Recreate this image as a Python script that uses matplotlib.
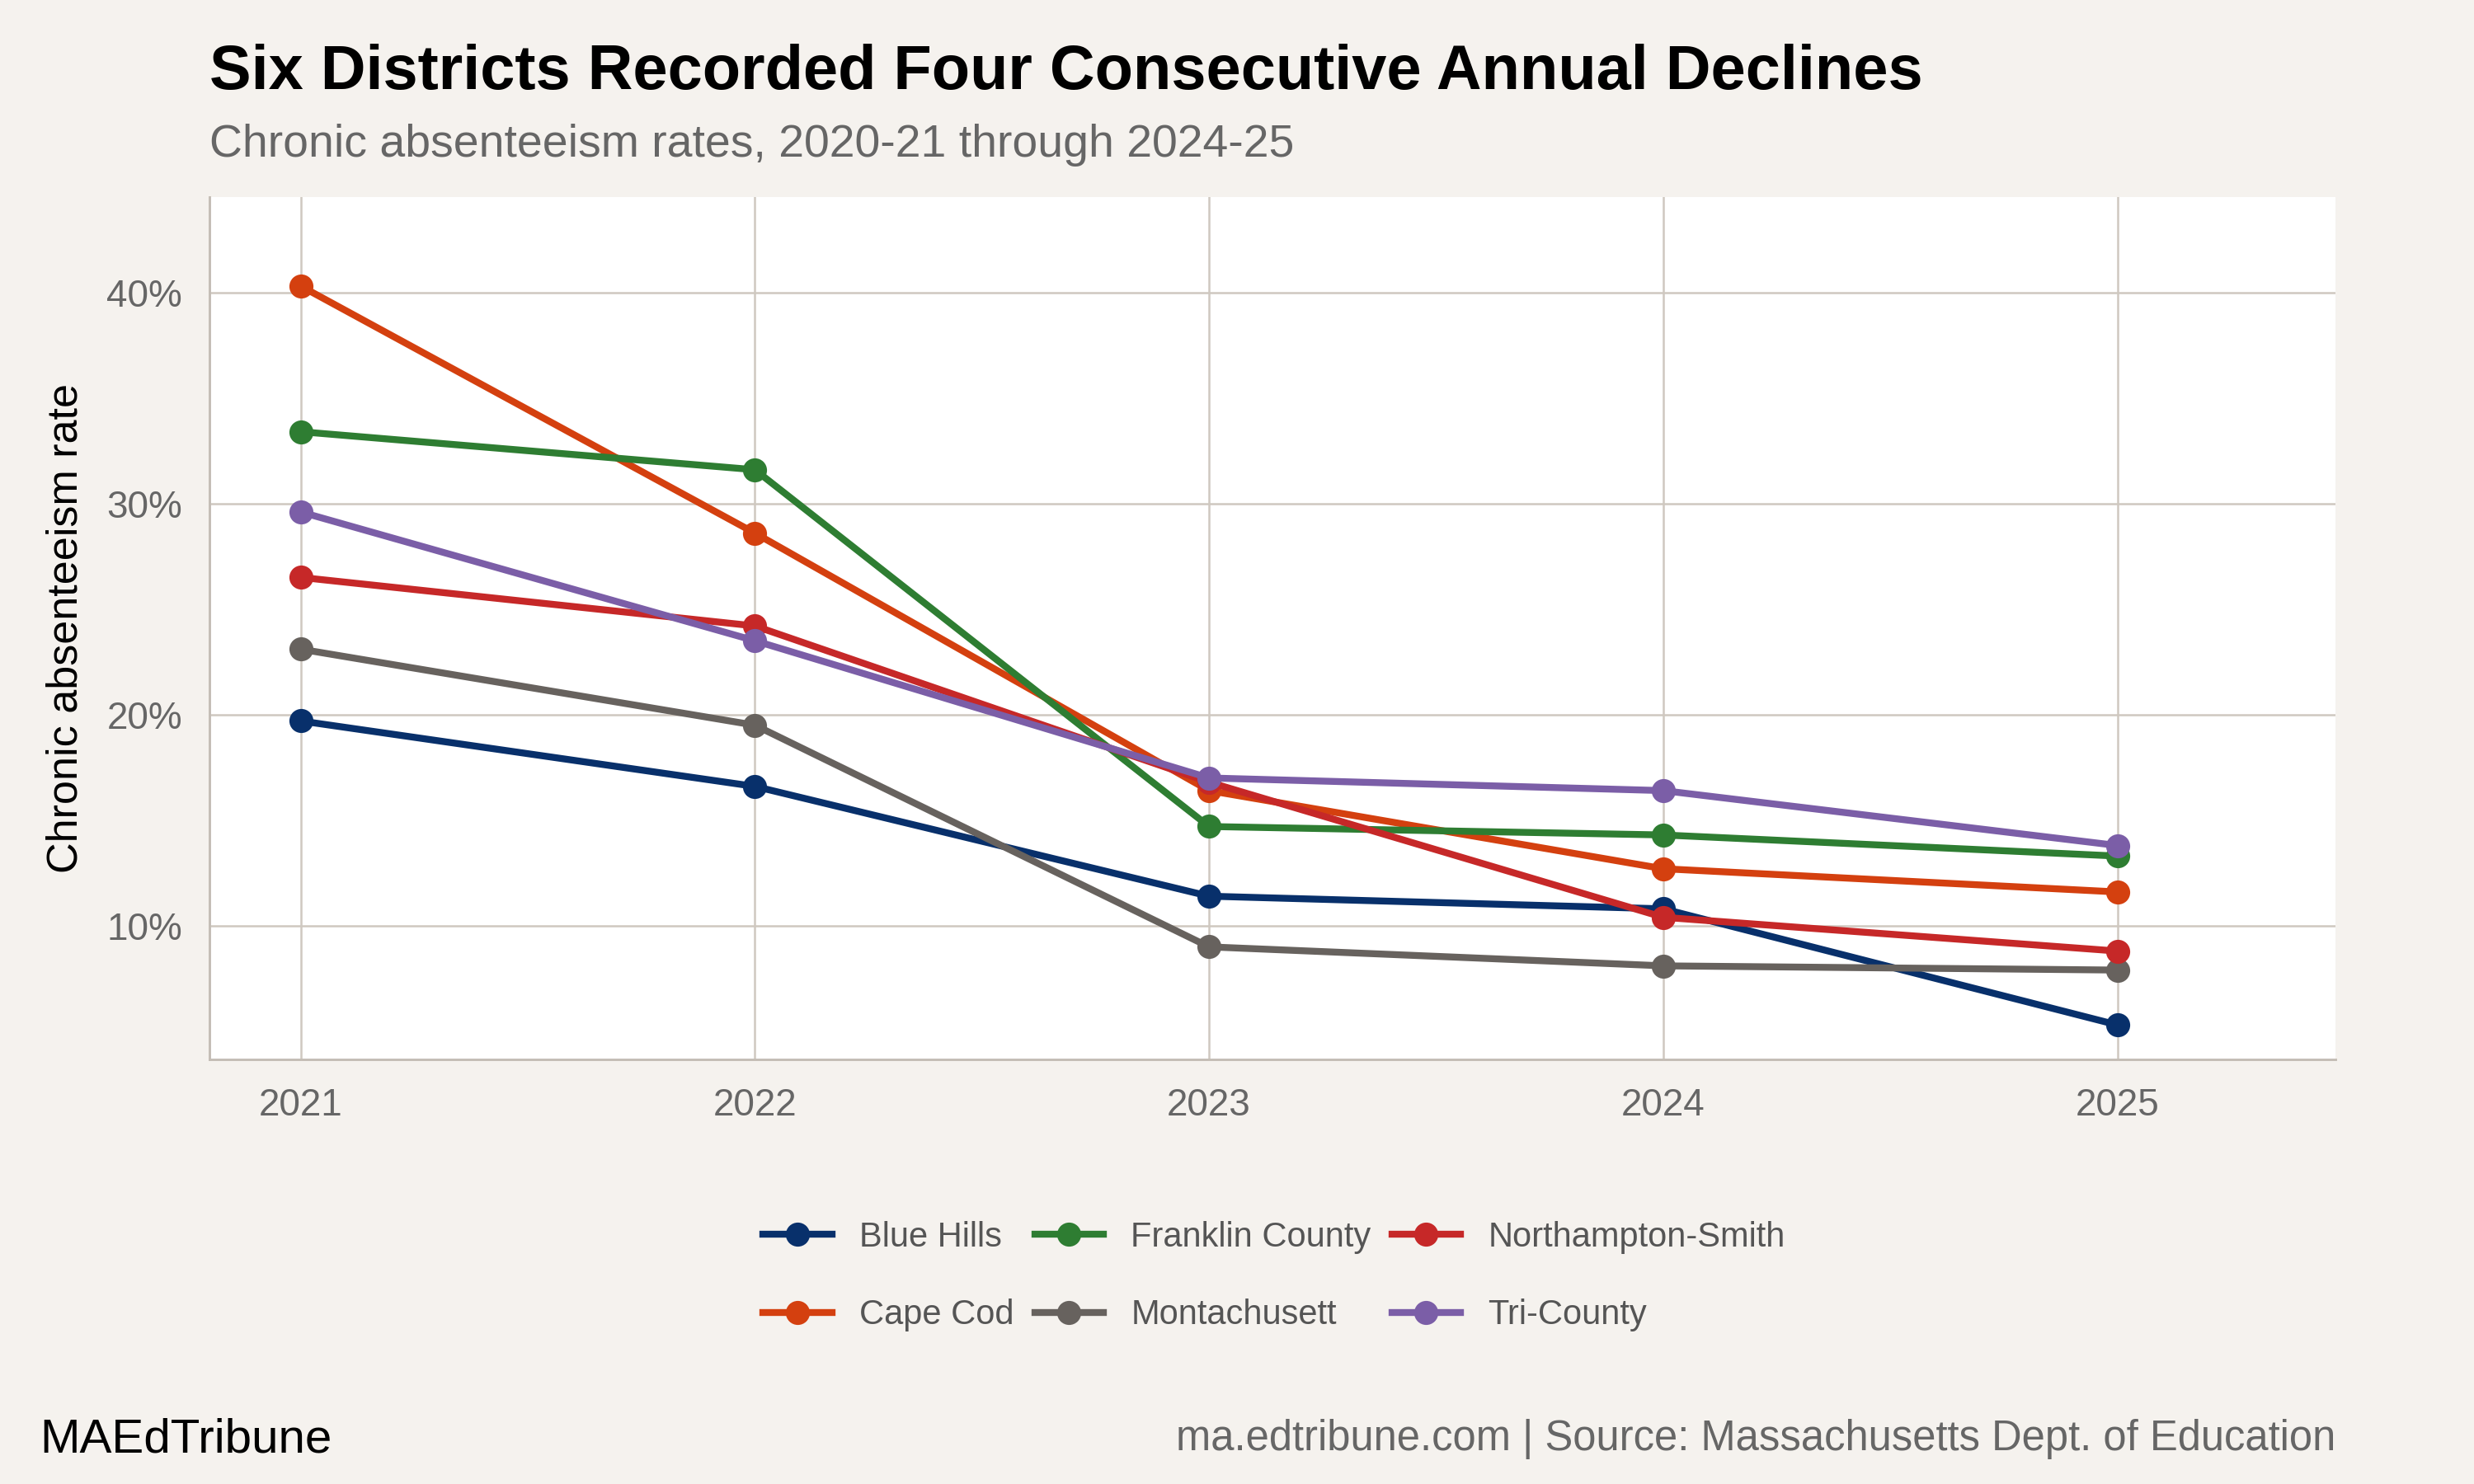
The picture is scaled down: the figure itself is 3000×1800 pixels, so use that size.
import matplotlib
matplotlib.use("Agg")
import matplotlib.pyplot as plt
from matplotlib.ticker import FuncFormatter

plt.rcParams['font.family'] = ['Liberation Sans', 'DejaVu Sans']

years = [2021, 2022, 2023, 2024, 2025]
districts = ["Blue Hills", "Cape Cod", "Franklin County", "Montachusett", "Northampton-Smith", "Tri-County"]
blue_hills = [19.7, 16.6, 11.4, 10.8, 5.3]
cape_cod = [40.3, 28.6, 16.4, 12.7, 11.6]
franklin = [33.4, 31.6, 14.7, 14.3, 13.3]
montachusett = [23.1, 19.5, 9.0, 8.1, 7.9]
northampton = [26.5, 24.2, 16.8, 10.4, 8.8]
tri_county = [29.6, 23.5, 17.0, 16.4, 13.8]
series = [blue_hills, cape_cod, franklin, montachusett, northampton, tri_county]
colors = ["#08306b", "#d4400f", "#2e7d32", "#67625e", "#c62828", "#7b5ea7"]

bg = "#f5f2ee"
fig = plt.figure(figsize=(10, 6), dpi=300, facecolor=bg)
ax = fig.add_axes([0.0848, 0.286, 0.944 - 0.0848, 0.867 - 0.286])
ax.set_facecolor("white")

for name, vals, c in zip(districts, series, colors):
    ax.plot(years, vals, color=c, lw=2.0, marker='o', ms=6, label=name, zorder=3)

ax.set_xlim(2020.8, 2025.48)
ax.set_ylim(3.66, 44.5)
ax.set_xticks(years)
ax.set_yticks([10, 20, 30, 40])
ax.yaxis.set_major_formatter(FuncFormatter(lambda v, p: f"{v:.0f}%"))
ax.grid(True, color="#cfc8c0", lw=0.6, zorder=0)
for s in ["top", "right"]:
    ax.spines[s].set_visible(False)
for s in ["left", "bottom"]:
    ax.spines[s].set_color("#c4bdb5")
    ax.spines[s].set_linewidth(0.7)
ax.tick_params(length=0, labelsize=11, colors="#666666", pad=8)
ax.set_ylabel("Chronic absenteeism rate", fontsize=12.5, color="black", labelpad=6)

fig.text(0.0848, 0.951, "Six Districts Recorded Four Consecutive Annual Declines",
         fontsize=18.2, fontweight="bold", va="center")
fig.text(0.0848, 0.902, "Chronic absenteeism rates, 2020-21 through 2024-25",
         fontsize=13.3, color="#666666", va="center")

leg = fig.legend(loc="center", bbox_to_anchor=(0.515, 0.14), ncol=3, frameon=False,
                 fontsize=10, handlelength=2, columnspacing=0.6, labelspacing=1.3)
for t in leg.get_texts():
    t.set_color("#555555")

fig.text(0.016, 0.03, "MAEdTribune", fontsize=14, va="center")
fig.text(0.944, 0.03, "ma.edtribune.com | Source: Massachusetts Dept. of Education",
         fontsize=12.2, color="#666666", ha="right", va="center")

fig.savefig("out.png", dpi=300, facecolor=bg)
